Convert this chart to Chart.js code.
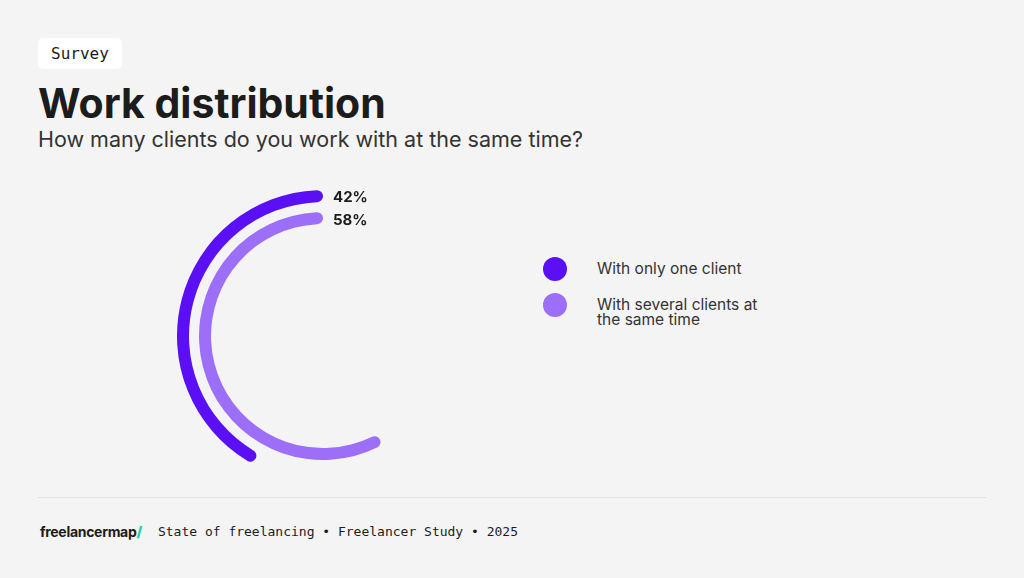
<!DOCTYPE html>
<html>
<head>
<meta charset="utf-8">
<script src="https://cdn.jsdelivr.net/npm/chart.js@4"></script>
<style>
  body { margin: 0; width: 1024px; height: 578px; background: #f4f4f4; font-family: Inter, "Noto Sans", sans-serif; color: #1c1c1c; position: relative; overflow: hidden; }
  .tag { position: absolute; left: 38px; top: 38px; background: #fff; border-radius: 5px; padding: 6px 13px; font-family: "DejaVu Sans Mono", monospace; font-size: 16px; }
  h1 { position: absolute; left: 38px; top: 78px; margin: 0; font-size: 41px; font-weight: 700; letter-spacing: 0px; }
  .sub { position: absolute; left: 38px; top: 126px; font-size: 21.5px; color: #333; }
  #wrap { position: absolute; left: 177px; top: 190px; width: 292px; height: 292px; }
  .pct { position: absolute; left: 333px; font-size: 15px; font-weight: 700; }
  .legend { position: absolute; left: 543px; top: 256px; }
  .item { display: flex; align-items: flex-start; margin-bottom: 11px; font-size: 15.5px; line-height: 15px; color: #333; }
  .dot { width: 24px; height: 24px; border-radius: 50%; margin-right: 30px; flex: none; margin-top: 1px; }
  .item span { padding-top: 5px; width: 180px; }
  hr { position: absolute; left: 38px; width: 948px; top: 497px; margin: 0; border: 0; border-top: 1px solid #e2e2e2; }
  .foot { position: absolute; left: 40px; top: 523px; font-size: 14px; display: flex; align-items: center; }
  .logo { font-weight: 700; letter-spacing: -0.3px; margin-right: 16px; }
  .logo b { color: #1fd6a0; }
  .mono { font-family: "DejaVu Sans Mono", monospace; font-size: 13px; }
</style>
</head>
<body>
<div class="tag">Survey</div>
<h1>Work distribution</h1>
<div class="sub">How many clients do you work with at the same time?</div>
<div id="wrap"><canvas id="c"></canvas></div>
<div id="pcts"></div>
<div class="legend" id="legend"></div>
<hr>
<div class="foot"><span class="logo">freelancermap<b>/</b></span><span class="mono">State of freelancing • Freelancer Study • 2025</span></div>
<script>
const categories = ['With only one client', 'With several clients at the same time']
const values = [42, 58]
const colors = ['#5a0ff5', '#9d6ef8']

const pctTops = [187, 210]
document.getElementById('pcts').innerHTML = values.map((v, i) =>
  `<div class="pct" style="top:${pctTops[i]}px">${v}%</div>`).join('')
document.getElementById('legend').innerHTML = categories.map((c, i) =>
  `<div class="item"><div class="dot" style="background:${colors[i]}"></div><span>${c}</span></div>`).join('')

// arcs run counter-clockwise from the top: transparent remainder first
const ring = (v, col) => ({
  data: [100 - v, v],
  backgroundColor: ['rgba(0,0,0,0)', col],
  borderWidth: 0,
  borderRadius: 6,
  weight: 12
})

new Chart(document.getElementById('c'), {
  type: 'doughnut',
  data: {
    labels: ['rest', 'value'],
    datasets: [
      ring(values[0], colors[0]),
      { data: [1], backgroundColor: ['rgba(0,0,0,0)'], borderWidth: 0, weight: 10 },
      ring(values[1], colors[1])
    ]
  },
  options: {
    responsive: true,
    maintainAspectRatio: false,
    animation: false,
    cutout: '76.7%',
    layout: { padding: 0 },
    plugins: { legend: { display: false }, tooltip: { enabled: false } }
  }
})
</script>
</body>
</html>
